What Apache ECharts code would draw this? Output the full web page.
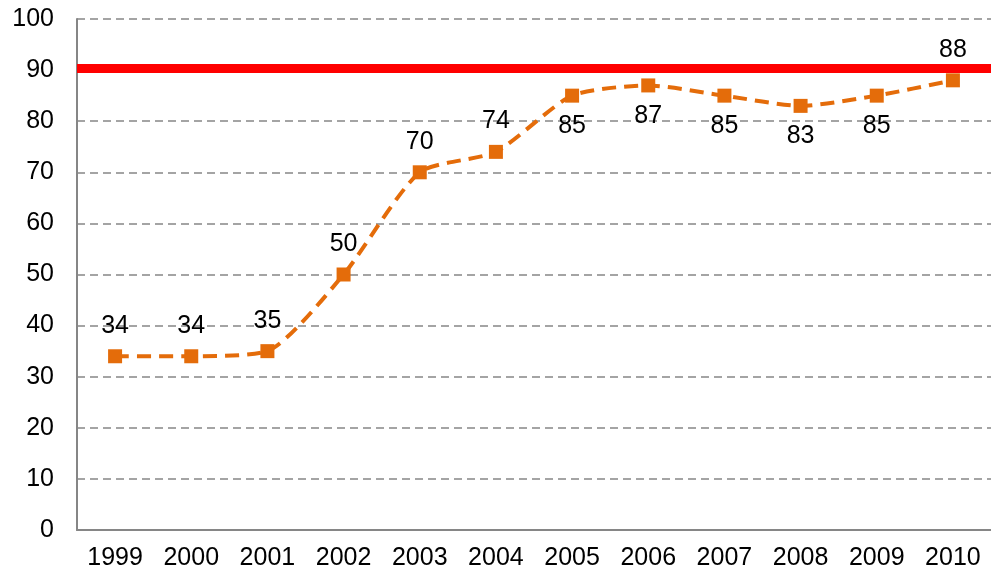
<!DOCTYPE html>
<html>
<head>
<meta charset="utf-8">
<script src="https://cdn.jsdelivr.net/npm/echarts@6/dist/echarts.min.js"></script>
<style>
html, body { margin: 0; padding: 0; background: #fff; }
#chart { width: 991px; height: 576px; }
</style>
</head>
<body>
<div id="chart"></div>
<script>
var years = ['1999', '2000', '2001', '2002', '2003', '2004', '2005', '2006', '2007', '2008', '2009', '2010'];
var values = [34, 34, 35, 50, 70, 74, 85, 87, 85, 83, 85, 88];
var target = 90.3;

// points whose label sits under the marker
var below = { '2005': 1, '2006': 1, '2007': 1, '2008': 1, '2009': 1 };

var chart = echarts.init(document.getElementById('chart'));

var points = values.map(function (v, i) {
    return {
        value: v,
        label: { position: below[years[i]] ? 'bottom' : 'top' }
    };
});

chart.setOption({
    animation: false,
    grid: {
        left: 77,
        top: 19,
        width: 923,
        bottom: 46
    },
    xAxis: {
        type: 'category',
        data: years,
        boundaryGap: true,
        axisLine: { lineStyle: { color: '#868686', width: 2 } },
        axisTick: { inside: true, length: 9, lineStyle: { color: '#868686', width: 2 } },
        axisLabel: {
            color: '#000',
            fontFamily: 'Liberation Sans',
            fontSize: 25,
            margin: 16
        }
    },
    yAxis: {
        type: 'value',
        min: 0,
        max: 100,
        interval: 10,
        axisLine: { show: true, lineStyle: { color: '#868686', width: 2 } },
        axisTick: { show: false },
        axisLabel: {
            color: '#000',
            fontFamily: 'Liberation Sans',
            fontSize: 25,
            margin: 23
        },
        splitLine: {
            lineStyle: { color: '#868686', type: [8, 5], width: 1.5 }
        }
    },
    series: [
        {
            type: 'line',
            data: points,
            smooth: 0.22,
            symbol: 'rect',
            symbolSize: 14,
            lineStyle: { color: '#E46C0A', width: 4, type: [14, 8] },
            itemStyle: { color: '#E46C0A' },
            label: {
                show: true,
                color: '#000',
                fontFamily: 'Liberation Sans',
                fontSize: 25,
                distance: 11
            },
            markLine: {
                silent: true,
                symbol: 'none',
                label: { show: false },
                lineStyle: { color: '#FF0000', width: 9, type: 'solid' },
                data: [{ yAxis: target }]
            },
            z: 3
        }
    ]
});
</script>
</body>
</html>
